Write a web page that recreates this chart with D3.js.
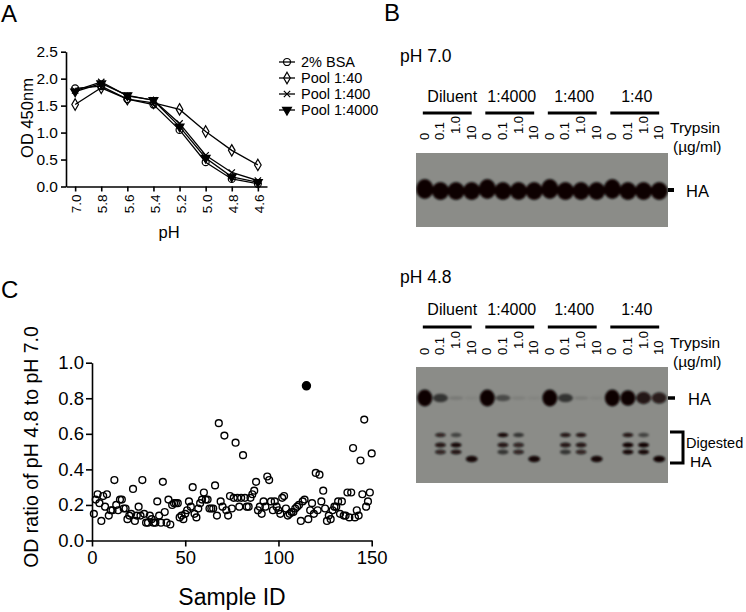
<!DOCTYPE html>
<html>
<head>
<meta charset="utf-8">
<style>
  body { margin: 0; background: #fff; }
  svg { display: block; font-family: "Liberation Sans", Arial, sans-serif; }
  .axis path, .axis line { stroke: #000; stroke-width: 1.6; }
  .axis text { fill: #000; font-family: "Liberation Sans", Arial, sans-serif; }
</style>
</head>
<body>
<svg id="fig" width="746" height="612"></svg>
<script src="https://d3js.org/d3.v7.min.js"></script>
<script>
// ---- panel A data ----
var phLabels = ["7.0", "5.8", "5.6", "5.4", "5.2", "5.0", "4.8", "4.6"];
var seriesNames = ["2% BSA", "Pool 1:40", "Pool 1:400", "Pool 1:4000"];
var bsa      = [1.82, 1.86, 1.62, 1.52, 1.05, 0.45, 0.14, 0.05];
var pool40   = [1.52, 1.83, 1.62, 1.55, 1.43, 1.02, 0.67, 0.40];
var pool400  = [1.78, 1.94, 1.68, 1.60, 1.17, 0.58, 0.26, 0.11];
var pool4000 = [1.76, 1.91, 1.69, 1.60, 1.11, 0.53, 0.18, 0.08];
var odTicks = [0, 0.5, 1.0, 1.5, 2.0, 2.5];

// ---- panel B data (band intensity per lane, 0..1) ----
var groups = ["Diluent", "1:4000", "1:400", "1:40"];
var trypsinDoses = ["0", "0.1", "1.0", "10"];
var ha70  = [1, 1, .95, .95, 1, 1, .95, .95, 1, 1, .95, .95, 1, 1, .95, .95];
var ha48  = [1, .6, .12, .05, 1, .45, .08, .05, 1, .6, .1, .05, 1, .95, .8, .75];
var dig1  = [0, .7, .5, 0, 0, .9, .6, 0, 0, .8, .8, 0, 0, .8, .5, 0];
var dig2  = [0, .8, .9, 0, 0, .8, .7, 0, 0, .8, .8, 0, 0, .95, .95, 0];
var dig3  = [0, .7, .8, 0, 0, .6, .7, 0, 0, .6, .7, 0, 0, .9, .9, 0];
var dig4  = [0, 0, 0, .9, 0, 0, 0, .9, 0, 0, 0, .9, 0, 0, 0, .95];

// ---- panel C data: ratio for sample IDs 1..150 ----
var ratios = [
  .15, .23, .26, .21, .11, .25, .19, .26, .14, .17,
  .17, .34, .20, .17, .23, .23, .18, .18, .12, .14,
  .15, .29, .11, .14, .19, .14, .34, .15, .10, .10,
  .14, .12, .10, .10, .22, .14, .10, .33, .16, .10,
  .23, .09, .20, .21, .21, .21, .13, .14, .12, .15,
  .17, .22, .19, .30, .15, .13, .18, .21, .23, .27,
  .23, .23, .18, .18, .18, .31, .14, .66, .22, .19,
  .59, .17, .14, .25, .18, .24, .55, .24, .19, .24,
  .48, .24, .19, .19, .24, .26, .28, .33, .17, .19,
  .15, .22, .19, .36, .34, .22, .17, .22, .19, .17,
  .15, .24, .25, .18, .14, .15, .16, .16, .18, .19,
  .20, .11, .22, .23, .87, .12, .17, .21, .15, .38,
  .17, .37, .22, .28, .18, .11, .14, .12, .17, .19,
  .19, .22, .15, .22, .14, .14, .27, .13, .27, .52,
  .13, .17, .14, .45, .26, .68, .19, .22, .27, .49
];
var filledIds = [115];
var sampleTicks = [0, 50, 100, 150];
var ratioTicks = [0, 0.2, 0.4, 0.6, 0.8, 1.0];

var svg = d3.select("#fig");
var fmt1 = d3.format(".1f");

// panel letters
svg.append("text").attr("x", 1).attr("y", 22).attr("font-size", 24).text("A");
svg.append("text").attr("x", 384).attr("y", 21).attr("font-size", 24).text("B");
svg.append("text").attr("x", 1).attr("y", 298).attr("font-size", 24).text("C");

// ================= Panel A =================
var xA = d3.scalePoint().domain(phLabels).range([66, 267]).padding(0.35);
var yA = d3.scaleLinear().domain([0, 2.5]).range([186.5, 51.7]);

var gA = svg.append("g");
gA.append("g")
    .attr("class", "axis")
    .attr("transform", "translate(66,0)")
    .call(d3.axisLeft(yA).tickValues(odTicks).tickFormat(fmt1).tickSize(5).tickSizeOuter(0).tickPadding(3))
    .selectAll("text").attr("font-size", 15.5);

gA.append("g")
    .attr("class", "axis")
    .attr("transform", "translate(0,186.5)")
    .call(d3.axisBottom(xA).tickSize(5).tickSizeOuter(0))
  .selectAll("text")
    .attr("font-size", 13.5)
    .attr("transform", "rotate(-90)")
    .attr("x", -8).attr("y", 1).attr("dy", "0.35em")
    .style("text-anchor", "end");

gA.append("text")
    .attr("transform", "rotate(-90)")
    .attr("x", -118).attr("y", 33)
    .attr("text-anchor", "middle").attr("font-size", 16.5)
    .text("OD 450nm");
gA.append("text")
    .attr("x", 169).attr("y", 238)
    .attr("text-anchor", "middle").attr("font-size", 16.5)
    .text("pH");

var xSym = { draw: function(ctx, size) {
  var r = Math.sqrt(size) / 2;
  ctx.moveTo(-r, -r); ctx.lineTo(r, r);
  ctx.moveTo(-r, r); ctx.lineTo(r, -r);
}};
var symbols = [
  { type: d3.symbolCircle, size: 38, fill: "none", rot: 0 },
  { type: d3.symbolDiamond, size: 38, fill: "none", rot: 0 },
  { type: xSym, size: 40, fill: "none", rot: 0 },
  { type: d3.symbolTriangle, size: 34, fill: "#000", rot: 180 }
];
var seriesA = [bsa, pool40, pool400, pool4000];

var lineA = d3.line()
    .x(function(d, i) { return xA(phLabels[i]); })
    .y(function(d) { return yA(d); });

seriesA.forEach(function(vals, s) {
  gA.append("path")
      .attr("d", lineA(vals))
      .attr("fill", "none").attr("stroke", "#000").attr("stroke-width", 1.3);
  gA.append("g").selectAll("path")
      .data(vals)
      .enter().append("path")
      .attr("transform", function(d, i) { return "translate(" + xA(phLabels[i]) + "," + yA(d) + ") rotate(" + symbols[s].rot + ")"; })
      .attr("d", d3.symbol(symbols[s].type, symbols[s].size))
      .attr("fill", symbols[s].fill).attr("stroke", "#000").attr("stroke-width", 1.2);
});

var legA = gA.append("g")
  .selectAll("g")
  .data(seriesNames)
  .enter().append("g")
    .attr("transform", function(d, i) { return "translate(279," + (62 + i * 16) + ")"; });
legA.append("line").attr("x1", 0).attr("x2", 16).attr("stroke", "#000").attr("stroke-width", 1.3);
legA.append("path")
    .attr("transform", function(d, i) { return "translate(8,0) rotate(" + symbols[i].rot + ")"; })
    .attr("d", function(d, i) { return d3.symbol(symbols[i].type, symbols[i].size)(); })
    .attr("fill", function(d, i) { return symbols[i].fill; })
    .attr("stroke", "#000").attr("stroke-width", 1.2);
legA.append("text")
    .attr("x", 22).attr("dy", "0.36em").attr("font-size", 14.5)
    .text(function(d) { return d; });

// ================= Panel B =================
var defs = svg.append("defs");
defs.append("filter").attr("id", "blur").attr("x", "-50%").attr("y", "-50%").attr("width", "200%").attr("height", "200%")
  .append("feGaussianBlur").attr("stdDeviation", 1.2);

var xLane = d3.scaleBand().domain(d3.range(16)).range([417, 667]);
var laneC = function(i) { return xLane(i) + xLane.bandwidth() / 2; };

function blotHeader(g, L) {
  g.append("text").attr("x", 400).attr("y", L.title).attr("font-size", 17.5).text(L.name);

  var grp = g.append("g").selectAll("g").data(groups).enter().append("g");
  grp.append("line")
      .attr("x1", function(d, i) { return laneC(i * 4) - 2; })
      .attr("x2", function(d, i) { return laneC(i * 4 + 3); })
      .attr("y1", L.bar).attr("y2", L.bar)
      .attr("stroke", "#000").attr("stroke-width", 3);
  grp.append("text")
      .attr("x", function(d, i) { return (laneC(i * 4) + laneC(i * 4 + 3)) / 2 + (i === 0 ? 4 : 1); })
      .attr("y", L.group).attr("text-anchor", "middle").attr("font-size", 16)
      .text(function(d) { return d; });

  g.append("g").selectAll("text")
      .data(d3.range(16))
      .enter().append("text")
      .attr("transform", function(i) {
        return "translate(" + (laneC(i) + 4) + "," + (L.lane - (i % 4 === 2 ? 6 : 0)) + ") rotate(-90)";
      })
      .attr("font-size", 13)
      .text(function(i) { return trypsinDoses[i % 4]; });

  g.append("text").attr("x", 670).attr("y", L.trypsin).attr("font-size", 15.5).text("Trypsin");
  g.append("text").attr("x", 673).attr("y", L.ugml).attr("font-size", 15.5).text("(\u00b5g/ml)");

  var clipId = "clip" + L.id;
  defs.append("clipPath").attr("id", clipId)
    .append("rect").attr("x", 416).attr("y", L.gelTop).attr("width", 252).attr("height", L.gelBottom - L.gelTop);
  g.append("rect")
      .attr("x", 416).attr("y", L.gelTop).attr("width", 252).attr("height", L.gelBottom - L.gelTop)
      .attr("fill", "#8b8c88");
  return g.append("g").attr("clip-path", "url(#" + clipId + ")").attr("filter", "url(#blur)");
}

function bandRow(g, vals, y, rx, ryFn) {
  g.append("g").selectAll("ellipse")
      .data(vals.map(function(v, i) { return { v: v, i: i }; }).filter(function(d) { return d.v > 0; }))
      .enter().append("ellipse")
      .attr("cx", function(d) { return laneC(d.i); })
      .attr("cy", function(d) { return typeof y === "function" ? y(d) : y; })
      .attr("rx", rx)
      .attr("ry", function(d) { return ryFn(d.v, d.i); })
      .attr("fill", "#0a0606")
      .attr("opacity", function(d) { return Math.min(1, d.v * 1.05); });
}

// pH 7.0 blot
var L70 = { id: 70, name: "pH 7.0", title: 62, group: 102, bar: 113, lane: 140, trypsin: 133, ugml: 152, gelTop: 153, gelBottom: 227 };
var g70 = svg.append("g");
var gel70 = blotHeader(g70, L70);
bandRow(gel70, ha70, function(d) { return d.i % 4 === 0 ? 189 : 191; }, 8.6, function(v, i) { return i % 4 === 0 ? 10 : 9; });
g70.append("line").attr("x1", 668).attr("x2", 674).attr("y1", 190).attr("y2", 190).attr("stroke", "#000").attr("stroke-width", 4);
g70.append("text").attr("x", 686).attr("y", 197).attr("font-size", 16.5).text("HA");

// pH 4.8 blot
var L48 = { id: 48, name: "pH 4.8", title: 283, group: 315, bar: 327, lane: 355, trypsin: 348, ugml: 367, gelTop: 367, gelBottom: 483 };
var g48 = svg.append("g");
var gel48 = blotHeader(g48, L48);
bandRow(gel48, ha48, 398, 7.5, function(v) { return 2 + 6.5 * v * v; });
bandRow(gel48, dig1, 435, 5.5, function() { return 2.2; });
bandRow(gel48, dig2, 445, 5.5, function() { return 2.6; });
bandRow(gel48, dig3, 452, 5.5, function() { return 2.4; });
bandRow(gel48, dig4, 459, 6, function() { return 3.2; });
g48.append("line").attr("x1", 668).attr("x2", 675).attr("y1", 398).attr("y2", 398).attr("stroke", "#000").attr("stroke-width", 3.5);
g48.append("text").attr("x", 688).attr("y", 405).attr("font-size", 16.5).text("HA");
g48.append("path")
    .attr("d", d3.line()([[670, 432], [683, 432], [683, 463], [670, 463]]))
    .attr("fill", "none").attr("stroke", "#000").attr("stroke-width", 3);
g48.append("text").attr("x", 686).attr("y", 448).attr("font-size", 14.5).text("Digested");
g48.append("text").attr("x", 690).attr("y", 467).attr("font-size", 15.5).text("HA");

// ================= Panel C =================
var xC = d3.scaleLinear().domain([0, 150]).range([92, 371.7]);
var yC = d3.scaleLinear().domain([0, 1]).range([540.5, 362.7]);
var gC = svg.append("g");

gC.append("g")
    .attr("class", "axis")
    .attr("transform", "translate(92,0)")
    .call(d3.axisLeft(yC).tickValues(ratioTicks).tickFormat(fmt1).tickSize(6).tickSizeOuter(0).tickPadding(2))
    .selectAll("text").attr("font-size", 18.5);

gC.append("g")
    .attr("class", "axis")
    .attr("transform", "translate(0,540.5)")
    .call(d3.axisBottom(xC).tickValues(sampleTicks).tickSize(6).tickSizeOuter(0).tickPadding(4))
    .selectAll("text").attr("font-size", 18.5);

gC.append("text")
    .attr("transform", "rotate(-90)")
    .attr("x", -447).attr("y", 38)
    .attr("text-anchor", "middle").attr("font-size", 19.5)
    .text("OD ratio of pH 4.8 to pH 7.0");
gC.append("text")
    .attr("x", 232).attr("y", 605)
    .attr("text-anchor", "middle").attr("font-size", 23)
    .text("Sample ID");

var pts = ratios.map(function(r, i) { return { id: i + 1, r: r }; });
gC.append("g").selectAll("circle")
    .data(pts)
    .enter().append("circle")
    .attr("cx", function(d) { return xC(d.id); })
    .attr("cy", function(d) { return yC(d.r); })
    .attr("r", function(d) { return filledIds.indexOf(d.id) >= 0 ? 4 : 3.4; })
    .attr("fill", function(d) { return filledIds.indexOf(d.id) >= 0 ? "#000" : "none"; })
    .attr("stroke", "#000").attr("stroke-width", 1.4);
</script>
</body>
</html>
